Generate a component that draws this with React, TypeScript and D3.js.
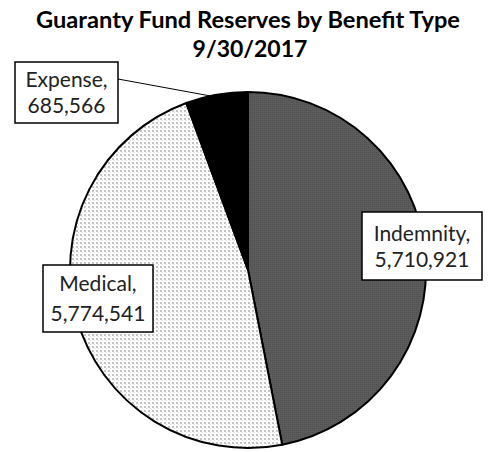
import React from "react";
import * as d3 from "d3";

const categories = ["Indemnity", "Medical", "Expense"];
const values = [5710921, 5774541, 685566];
const titleLines = ["Guaranty Fund Reserves by Benefit Type", "9/30/2017"];

const W = 489, H = 452;
const cx = 248, cy = 270, R = 178;

export default function App() {
  const pie = d3.pie<number>().sort(null).value((d) => d)(values);
  const arc = d3.arc<d3.PieArcDatum<number>>().innerRadius(0).outerRadius(R);
  const fmt = d3.format(",");
  const fills = ["url(#indem)", "url(#medic)", "#000"];

  const boxes = [
    { x: 362, y: 212, w: 120, h: 68, b1: 241, b2: 267 },
    { x: 43, y: 265, w: 110, h: 67, b1: 291, b2: 321 },
    { x: 15, y: 62, w: 103, h: 61, b1: 87, b2: 113 },
  ];
  const expAngle = (pie[2].startAngle + pie[2].endAngle) / 2 - 0.035;
  const leaderEnd = [cx + R * Math.sin(expAngle), cy - R * Math.cos(expAngle)];

  return (
    <svg width={W} height={H} style={{ position: "absolute", left: 0, top: 0 }}>
      <defs>
        <pattern id="indem" width="2" height="2" patternUnits="userSpaceOnUse">
          <rect width="2" height="2" fill="#5c5c5c" />
          <rect width="1" height="1" fill="#505050" />
        </pattern>
        <pattern id="medic" width="4" height="4" patternUnits="userSpaceOnUse">
          <rect width="4" height="4" fill="#fff" />
          <rect x="0" y="0" width="2" height="2" fill="#c4c4c4" />
          <rect x="2" y="2" width="1" height="1" fill="#dcdcdc" />
        </pattern>
      </defs>
      <rect width={W} height={H} fill="#fff" />
      <g fontFamily="Lato, sans-serif" fontWeight="bold" fontSize="23" textAnchor="middle" fill="#000">
        <text x={248} y={28} textLength={424} lengthAdjust="spacingAndGlyphs">{titleLines[0]}</text>
        <text x={250} y={57}>{titleLines[1]}</text>
      </g>
      <g transform={`translate(${cx},${cy})`}>
        {pie.map((p, i) => (
          <path key={i} d={arc(p) || ""} fill={fills[i]} stroke="#000" strokeWidth={2} strokeLinejoin="round" />
        ))}
      </g>
      <line x1={118} y1={79} x2={leaderEnd[0]} y2={leaderEnd[1]} stroke="#000" strokeWidth={1} />
      {boxes.map((b, i) => (
        <g key={i}>
          <rect x={b.x} y={b.y} width={b.w} height={b.h} fill="#fff" stroke="#000" strokeWidth={1.5} />
          <g fontFamily="Lato, sans-serif" fontSize="21" textAnchor="middle" fill="#222">
            <text x={b.x + b.w / 2} y={b.b1}>{categories[i]},</text>
            <text x={b.x + b.w / 2} y={b.b2}>{fmt(values[i])}</text>
          </g>
        </g>
      ))}
    </svg>
  );
}
